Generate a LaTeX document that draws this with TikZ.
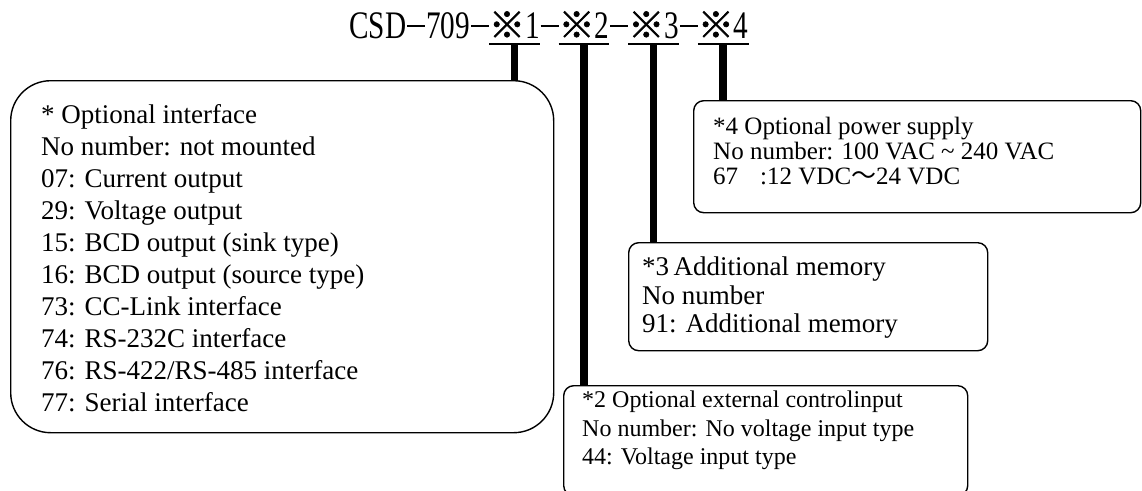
\documentclass[tikz,border=0pt]{standalone}
\usepackage{fontspec}
\usepackage{graphicx}
\usepackage{tikz}
\setmainfont{Liberation Serif}
\newfontfamily\cjk{Noto Sans CJK JP}
\newfontfamily\cjkmark[FakeBold=1.6]{Noto Sans CJK JP}

\newcommand{\refm}{{\cjkmark\fontsize{36}{36}\selectfont ※}}
\newcommand{\tdash}{\hspace{1pt}\rule[11pt]{18pt}{1.6pt}\hspace{1pt}}
\newcommand{\tch}[1]{\scalebox{0.75}[1]{\fontsize{39}{39}\selectfont #1}}

\tikzset{
  codepart/.style={inner sep=0pt, outer sep=0pt, anchor=base west},
  optbox/.style={draw, line width=1.4pt, rounded corners=10pt, anchor=north west, inner sep=0pt},
  boxtext/.style={inner sep=0pt, anchor=north west, align=left},
  stem/.style={line width=7.5pt},
  uline/.style={line width=1.5pt}
}

\begin{document}
\begin{tikzpicture}[x=1pt,y=-1pt]
        \useasboundingbox (0,0) rectangle (1142,490);
        % model code
        \node[codepart, anchor=base east] (code) at (489,38) {\tch{CSD}\tdash\tch{709}\tdash};
        \node[codepart] (opt1) at (489,38) {\refm\tch{1}};
        \node[codepart] (dash1) at (opt1.base east) {\tdash};
        \node[codepart] (opt2) at (dash1.base east) {\refm\tch{2}};
        \node[codepart] (dash2) at (opt2.base east) {\tdash};
        \node[codepart] (opt3) at (dash2.base east) {\refm\tch{3}};
        \node[codepart] (dash3) at (opt3.base east) {\tdash};
        \node[codepart] (opt4) at (dash3.base east) {\refm\tch{4}};
        \draw[uline] ([yshift=-6pt]opt1.base west) -- ([yshift=-6pt]opt1.base east);
        \draw[uline] ([yshift=-6pt]opt2.base west) -- ([yshift=-6pt]opt2.base east);
        \draw[uline] ([yshift=-6pt]opt3.base west) -- ([yshift=-6pt]opt3.base east);
        \draw[uline] ([yshift=-6pt]opt4.base west) -- ([yshift=-6pt]opt4.base east);
        % option boxes
        \node[optbox, rounded corners=40pt, minimum width=543pt, minimum height=352pt] (box1) at (10,80) {};
        \node[optbox, minimum width=447pt, minimum height=112pt] (box4) at (693,100) {};
        \node[optbox, minimum width=359pt, minimum height=108pt] (box3) at (628,242) {};
        \node[optbox, minimum width=404pt, minimum height=110pt] (box2) at (563,385) {};
        \node[boxtext, font=\fontsize{27}{32}\selectfont] (text1) at ([shift={(31pt,-24pt)}]box1.north west)
            {* Optional interface\\ No number: not mounted\\ 07: Current output\\ 29: Voltage output\\
             15: BCD output (sink type)\\ 16: BCD output (source type)\\ 73: CC-Link interface\\
             74: RS-232C interface\\ 76: RS-422/RS-485 interface\\ 77: Serial interface};
        \node[boxtext, font=\fontsize{25}{25}\selectfont] (text4) at ([shift={(20pt,-17pt)}]box4.north west)
            {*4 Optional power supply\\ No number: 100 VAC \textasciitilde\ 240 VAC\\
             67\hspace{22pt}:12 VDC{\cjk ～}24 VDC};
        \node[boxtext, font=\fontsize{27}{28.5}\selectfont] (text3) at ([shift={(14pt,-15pt)}]box3.north west)
            {*3\,Additional memory\\ No number\\ 91: Additional memory};
        \node[boxtext, font=\fontsize{24}{28.5}\selectfont] (text2) at ([shift={(19pt,-6pt)}]box2.north west)
            {*2 Optional external controlinput\\ No number: No voltage input type\\ 44: Voltage input type};
        % stems
        \draw[stem] ([yshift=-6pt]opt1.base) -- (opt1.base |- box1.north);
        \draw[stem] ([yshift=-6pt]opt2.base) -- (opt2.base |- box2.north);
        \draw[stem] ([yshift=-6pt]opt3.base) -- (opt3.base |- box3.north);
        \draw[stem] ([yshift=-6pt]opt4.base) -- (opt4.base |- box4.north);
    \end{tikzpicture}
\end{document}
